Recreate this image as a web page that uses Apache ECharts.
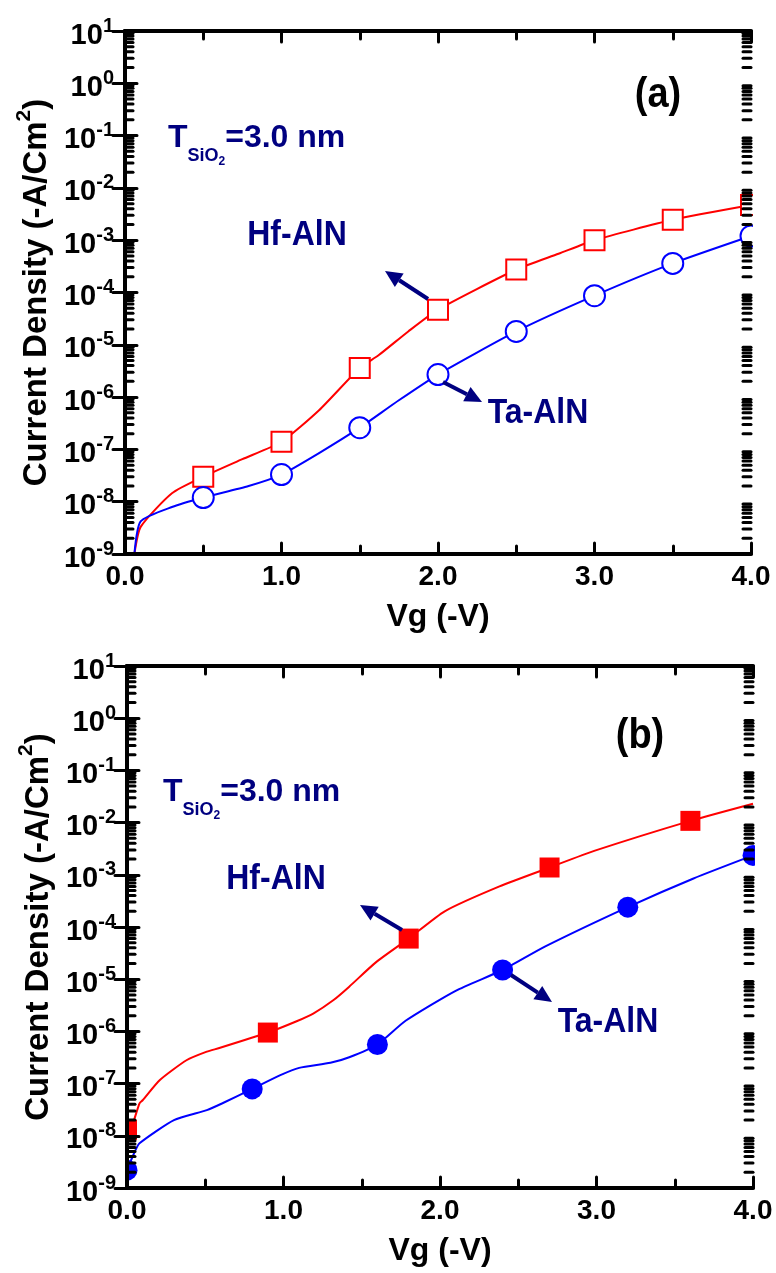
<!DOCTYPE html>
<html>
<head>
<meta charset="utf-8">
<script src="https://cdn.jsdelivr.net/npm/echarts@6/dist/echarts.min.js"></script>
<style>
html,body{margin:0;padding:0;background:#fff;}
#c{width:776px;height:1273px;}
</style>
</head>
<body>
<div id="c"></div>
<script>
// ---------------- data ----------------
// Panel (a)
const hfA_lineV = [0.06, 0.1, 0.3, 0.5, 0.75, 1.0, 1.24, 1.5, 1.62, 1.81, 2.0, 2.5, 2.77, 3.0, 3.5, 4.0];
const hfA_lineJ = [1e-9, 3.3e-9, 1.45e-8, 3.0e-8, 6.5e-8, 1.4e-7, 5.6e-7, 3.6e-6, 6.3e-6, 1.8e-5, 4.7e-5, 2.75e-4, 5.5e-4, 1.0e-3, 2.45e-3, 4.7e-3];
const taA_lineV = [0.06, 0.1, 0.3, 0.5, 0.79, 1.0, 1.24, 1.5, 1.75, 2.0, 2.5, 3.0, 3.5, 4.0];
const taA_lineJ = [1e-9, 4.2e-9, 7.9e-9, 1.2e-8, 2.0e-8, 3.3e-8, 8.5e-8, 2.6e-7, 8.7e-7, 2.7e-6, 1.8e-5, 8.7e-5, 3.6e-4, 1.2e-3];
const markA_V = [0.5, 1.0, 1.5, 2.0, 2.5, 3.0, 3.5, 4.0];
const hfA_markJ = [3.0e-8, 1.4e-7, 3.6e-6, 4.7e-5, 2.75e-4, 1.0e-3, 2.45e-3, 4.7e-3];
const taA_markJ = [1.2e-8, 3.3e-8, 2.6e-7, 2.7e-6, 1.8e-5, 8.7e-5, 3.6e-4, 1.2e-3];

// Panel (b)
const hfB_lineV = [0.02, 0.04, 0.08, 0.10, 0.21, 0.38, 0.51, 0.59, 0.9, 1.08, 1.19, 1.32, 1.42, 1.59, 1.8, 2.03, 2.38, 2.7, 2.99, 3.6, 4.0];
const hfB_lineJ = [1.3e-8, 1.8e-8, 4.2e-8, 4.8e-8, 1.17e-7, 2.8e-7, 4.1e-7, 4.8e-7, 9.5e-7, 1.55e-6, 2.2e-6, 4.0e-6, 7.2e-6, 2.1e-5, 6.0e-5, 2.0e-4, 6.0e-4, 1.38e-3, 2.9e-3, 1.08e-2, 2.3e-2];
const taB_lineV = [0.0, 0.05, 0.08, 0.30, 0.51, 0.61, 0.8, 0.98, 1.1, 1.30, 1.42, 1.6, 1.78, 2.1, 2.4, 2.67, 3.2, 3.62, 4.0];
const taB_lineJ = [2.2e-9, 5e-9, 7.2e-9, 2.0e-8, 3.1e-8, 4.2e-8, 7.9e-8, 1.45e-7, 2.0e-7, 2.5e-7, 3.2e-7, 5.6e-7, 1.6e-6, 6e-6, 1.5e-5, 4.2e-5, 2.4e-4, 8.5e-4, 2.35e-3];
const hfB_markV = [0.0, 0.9, 1.8, 2.7, 3.6];
const hfB_markJ = [1.3e-8, 9.5e-7, 6.0e-5, 1.38e-3, 1.08e-2];
const taB_markV = [0.0, 0.8, 1.6, 2.4, 3.2, 4.0];
const taB_markJ = [2.2e-9, 7.9e-8, 5.6e-7, 1.5e-5, 2.4e-4, 2.35e-3];

// axis ticks
const xTickLabels = ['0.0', '1.0', '2.0', '3.0', '4.0'];
const yDecadeExps = [-9, -8, -7, -6, -5, -4, -3, -2, -1, 0, 1];

// ---------------- helpers ----------------
const FONT = 'Arial, "Liberation Sans", Helvetica, sans-serif';
const NAVY = '#000080';
const zip = (a, b) => a.map((v, i) => [v, b[i]]);

const minorLogTicks = [];
for (let i = 0; i < yDecadeExps.length - 1; i++) {
  for (let k = 2; k <= 9; k++) minorLogTicks.push([0, k * Math.pow(10, yDecadeExps[i])]);
}

function xAxes(gi) {
  const common = {
    gridIndex: gi, type: 'value', min: 0, max: 4, interval: 1, z: 10,
    axisLine: { lineStyle: { color: '#000', width: 4 } },
    axisTick: { inside: true, length: 11, lineStyle: { color: '#000', width: 3, cap: 'round' } },
    minorTick: { show: true, splitNumber: 2, length: 8, lineStyle: { color: '#000', width: 3, cap: 'round' } },
    splitLine: { show: false }, minorSplitLine: { show: false }
  };
  return [
    Object.assign({}, common, {
      position: 'bottom',
      axisLabel: { formatter: v => xTickLabels[Math.round(v)], fontSize: 28, fontWeight: 'bold', color: '#000', fontFamily: FONT, margin: 9 },
      name: 'Vg (-V)', nameLocation: 'middle', nameGap: 47,
      nameTextStyle: { fontSize: 32, fontWeight: 'bold', color: '#000', fontFamily: FONT }
    }),
    Object.assign({}, common, { position: 'top', axisLabel: { show: false } })
  ];
}

function yAxes(gi) {
  const common = {
    gridIndex: gi, type: 'log', logBase: 10, min: 1e-9, max: 10, splitNumber: 10, interval: 1, z: 10,
    axisLine: { lineStyle: { color: '#000', width: 4 } },
    axisTick: { inside: true, length: 12, lineStyle: { color: '#000', width: 3, cap: 'round' } },
    splitLine: { show: false }
  };
  return [
    Object.assign({}, common, {
      position: 'left',
      axisLabel: {
        margin: 11, color: '#000', fontFamily: FONT,
        formatter: v => '{b|10}{s|' + Math.round(Math.log10(v)) + '}',
        rich: {
          b: { fontSize: 29, fontWeight: 'bold', fontFamily: FONT, color: '#000', lineHeight: 30, padding: [5, 0, 5, 0], verticalAlign: 'top' },
          s: { fontSize: 20, fontWeight: 'bold', fontFamily: FONT, color: '#000', lineHeight: 20, verticalAlign: 'top' }
        }
      },
      name: '{n|Current Density (-A/Cm}{s|2}{n|)}', nameLocation: 'middle', nameGap: 68,
      nameTextStyle: {
        rich: {
          n: { fontSize: 33, fontWeight: 'bold', fontFamily: FONT, color: '#000', lineHeight: 36, padding: [6, 0, 0, 0], verticalAlign: 'top' },
          s: { fontSize: 21, fontWeight: 'bold', fontFamily: FONT, color: '#000', lineHeight: 20, verticalAlign: 'top' }
        }
      }
    }),
    Object.assign({}, common, { position: 'right', axisLabel: { show: false } })
  ];
}

function lineSeries(gi, v, j, color) {
  return { type: 'line', xAxisIndex: gi * 2, yAxisIndex: gi * 2, data: zip(v, j), showSymbol: false,
    lineStyle: { color: color, width: 2 }, smooth: 0.2, z: 2, clip: true, silent: true };
}
function markSeries(gi, v, j, symbol, color, filled) {
  return { type: 'scatter', xAxisIndex: gi * 2, yAxisIndex: gi * 2, data: zip(v, j), symbol: symbol,
    symbolSize: symbol === 'rect' ? 20 : 21, clip: false, z: 3, silent: true,
    itemStyle: filled ? { color: color, opacity: 1 } : { color: '#fff', borderColor: color, borderWidth: 2, opacity: 1 } };
}
function minorTickSeries(gi) {
  return { type: 'custom', xAxisIndex: gi * 2, yAxisIndex: gi * 2, data: minorLogTicks, clip: false, z: 12, silent: true,
    renderItem: (params, api) => {
      const cs = params.coordSys;
      const y = api.coord([0, api.value(1)])[1];
      const st = { stroke: '#000', lineWidth: 3, lineCap: 'round' };
      return { type: 'group', children: [
        { type: 'line', shape: { x1: cs.x, y1: y, x2: cs.x + 8, y2: y }, style: st },
        { type: 'line', shape: { x1: cs.x + cs.width - 8, y1: y, x2: cs.x + cs.width, y2: y }, style: st }
      ]};
    } };
}

function arrow(x1, y1, x2, y2) {
  const ang = Math.atan2(y2 - y1, x2 - x1);
  const hl = 17, hw = 8;
  const bx = x2 - hl * Math.cos(ang), by = y2 - hl * Math.sin(ang);
  const px = -Math.sin(ang) * hw, py = Math.cos(ang) * hw;
  return [
    { type: 'line', z: 20, shape: { x1: x1, y1: y1, x2: bx, y2: by }, style: { stroke: NAVY, lineWidth: 4 } },
    { type: 'polygon', z: 20, shape: { points: [[x2, y2], [bx + px, by + py], [bx - px, by - py]] }, style: { fill: NAVY } }
  ];
}
function label(text, cx, cy, size, color) {
  return { type: 'text', z: 20, x: cx, y: cy, scaleY: 1.12,
    style: { text: text, x: 0, y: 0, align: 'center', verticalAlign: 'middle',
    fontSize: size, fontWeight: 'bold', fontFamily: FONT, fill: color } };
}
function tsio(x, y) {
  return { type: 'text', z: 20, style: { x: x, y: y, align: 'left', verticalAlign: 'top',
    text: '{t|T}{s|SiO}{ss|2}{t|=3.0 nm}',
    rich: {
      t: { fontSize: 32, fontWeight: 'bold', fontFamily: FONT, fill: NAVY, lineHeight: 34, verticalAlign: 'top' },
      s: { fontSize: 18, fontWeight: 'bold', fontFamily: FONT, fill: NAVY, lineHeight: 20, padding: [25, 0, 0, 0], verticalAlign: 'top' },
      ss: { fontSize: 12, fontWeight: 'bold', fontFamily: FONT, fill: NAVY, lineHeight: 14, padding: [34, 0, 0, 0], verticalAlign: 'top' }
    } } };
}

const chart = echarts.init(document.getElementById('c'), null, { renderer: 'canvas' });
const option = {
  backgroundColor: '#fff',
  animation: false,
  grid: [
    { left: 125, top: 31, width: 626, height: 523 },
    { left: 127, top: 666, width: 626, height: 522 }
  ],
  xAxis: [...xAxes(0), ...xAxes(1)],
  yAxis: [...yAxes(0), ...yAxes(1)],
  series: [
    lineSeries(0, hfA_lineV, hfA_lineJ, '#ff0000'),
    lineSeries(0, taA_lineV, taA_lineJ, '#0000ff'),
    markSeries(0, markA_V, hfA_markJ, 'rect', '#ff0000', false),
    markSeries(0, markA_V, taA_markJ, 'circle', '#0000ff', false),
    minorTickSeries(0),
    lineSeries(1, hfB_lineV, hfB_lineJ, '#ff0000'),
    lineSeries(1, taB_lineV, taB_lineJ, '#0000ff'),
    markSeries(1, hfB_markV, hfB_markJ, 'rect', '#ff0000', true),
    markSeries(1, taB_markV, taB_markJ, 'circle', '#0000ff', true),
    minorTickSeries(1)
  ],
  graphic: [
    // masks for markers overflowing the frame
    { type: 'rect', z: 5, shape: { x: 753, y: 0, width: 23, height: 640 }, style: { fill: '#fff' } },
    { type: 'rect', z: 5, shape: { x: 755, y: 640, width: 21, height: 633 }, style: { fill: '#fff' } },
    { type: 'rect', z: 5, shape: { x: 112, y: 660, width: 13, height: 540 }, style: { fill: '#fff' } },
    label('(a)', 658, 95, 38, '#000'),
    tsio(168, 122),
    label('Hf-AlN', 297, 235, 32, NAVY),
    label('Ta-AlN', 538, 413, 32, NAVY),
    ...arrow(428, 299, 385, 271),
    ...arrow(443, 382, 482, 402),
    label('(b)', 640, 736, 38, '#000'),
    tsio(163, 776),
    label('Hf-AlN', 276, 879, 32, NAVY),
    label('Ta-AlN', 608, 1022, 32, NAVY),
    ...arrow(402, 930, 360, 905),
    ...arrow(511, 975, 552, 1002)
  ]
};
chart.setOption(option);
</script>
</body>
</html>
